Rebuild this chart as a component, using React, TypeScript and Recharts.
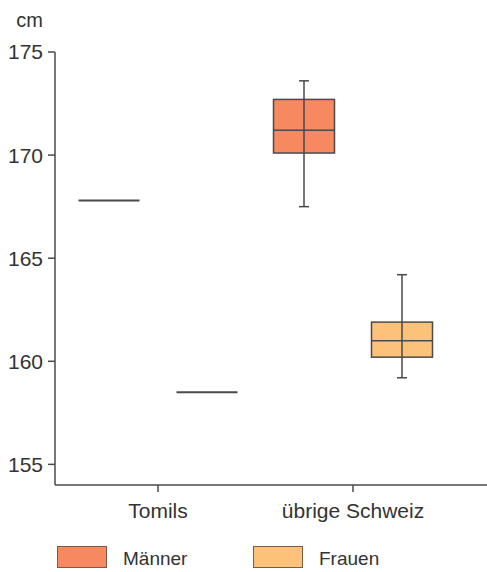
import React from 'react';
import { ComposedChart, Bar, XAxis, YAxis, Legend } from 'recharts';

// Körpergrösse in cm: Tomils nur als Einzelwert, übrige Schweiz als Boxplot
const categories = ['Tomils', 'übrige Schweiz'];
const seriesNames = ['Männer', 'Frauen'];

const maennerMin: (number | null)[] = [null, 167.5];
const maennerQ1: (number | null)[] = [null, 170.1];
const maennerMedian: number[] = [167.8, 171.2];
const maennerQ3: (number | null)[] = [null, 172.7];
const maennerMax: (number | null)[] = [null, 173.6];

const frauenMin: (number | null)[] = [null, 159.2];
const frauenQ1: (number | null)[] = [null, 160.2];
const frauenMedian: number[] = [158.5, 161.0];
const frauenQ3: (number | null)[] = [null, 161.9];
const frauenMax: (number | null)[] = [null, 164.2];

const yTicks = [155, 160, 165, 170, 175];

const FONT = '"Liberation Sans", Arial, Helvetica, sans-serif';
const INK = '#333333';
const LINE = '#4a4a4a';
const MEN_FILL = '#F6895F';
const WOMEN_FILL = '#FDC27A';

type Stats = {
  min: number | null;
  q1: number | null;
  median: number;
  q3: number | null;
  max: number | null;
};

const data = categories.map((name, i) => ({
  name,
  m: {
    min: maennerMin[i],
    q1: maennerQ1[i],
    median: maennerMedian[i],
    q3: maennerQ3[i],
    max: maennerMax[i],
  } as Stats,
  f: {
    min: frauenMin[i],
    q1: frauenQ1[i],
    median: frauenMedian[i],
    q3: frauenQ3[i],
    max: frauenMax[i],
  } as Stats,
}));

const range = (s: Stats): [number, number] => [s.min ?? s.median, s.max ?? s.median];

// Draws a whisker-box (or a single value line) inside the ranged bar's rectangle
const makeBoxShape = (key: 'm' | 'f') => (props: any) => {
  const { x, y, width, height, payload, fill } = props;
  const s: Stats = payload[key];
  const [lo, hi] = range(s);
  const toY = (v: number) => (hi === lo ? y : y + ((hi - v) / (hi - lo)) * height);
  const cx = x + width / 2;
  const sw = 1.5;
  if (s.q1 == null || s.q3 == null) {
    const my = toY(s.median);
    return (
      <g>
        <line x1={x} x2={x + width} y1={my} y2={my} stroke={LINE} strokeWidth={2} />
      </g>
    );
  }
  const yMax = toY(hi);
  const yMin = toY(lo);
  const yQ3 = toY(s.q3);
  const yQ1 = toY(s.q1);
  const yMed = toY(s.median);
  const cap = 5;
  return (
    <g>
      <rect x={x} y={yQ3} width={width} height={yQ1 - yQ3} fill={fill} stroke={LINE} strokeWidth={sw} />
      <line x1={cx} x2={cx} y1={yMax} y2={yMin} stroke={LINE} strokeWidth={sw} />
      <line x1={cx - cap} x2={cx + cap} y1={yMax} y2={yMax} stroke={LINE} strokeWidth={sw} />
      <line x1={cx - cap} x2={cx + cap} y1={yMin} y2={yMin} stroke={LINE} strokeWidth={sw} />
      <line x1={x} x2={x + width} y1={yMed} y2={yMed} stroke={LINE} strokeWidth={sw} />
    </g>
  );
};

const renderLegend = (props: any) => {
  const payload = [...(props.payload || [])].sort(
    (a: any, b: any) => seriesNames.indexOf(a.value) - seriesNames.indexOf(b.value),
  );
  const lefts = [57, 253];
  return (
    <div style={{ position: 'relative', height: 26, fontFamily: FONT, fontSize: 19, color: INK }}>
      {payload.map((p: any, i: number) => (
        <div
          key={p.value}
          style={{ position: 'absolute', left: lefts[i], top: 2, display: 'flex', alignItems: 'center', height: 22 }}
        >
          <span
            style={{
              display: 'inline-block',
              width: 50,
              height: 22,
              background: p.color,
              border: '1px solid #7a5a48',
              boxSizing: 'border-box',
            }}
          />
          <span style={{ marginLeft: 16, lineHeight: '22px', marginTop: 3 }}>{p.value}</span>
        </div>
      ))}
    </div>
  );
};

const UnitLabel = (props: any) => {
  const vb = props.viewBox || { x: 0, y: 0, width: 0 };
  return (
    <text
      x={vb.x + vb.width - 12}
      y={vb.y - 25}
      textAnchor="end"
      fontFamily={FONT}
      fontSize={20}
      fill={INK}
    >
      cm
    </text>
  );
};

export default function App() {
  return (
    <div style={{ width: 487, height: 572 }}>
      <style>{'body{margin:0;background:#fff;}'}</style>
      <ComposedChart
        width={487}
        height={572}
        data={data}
        margin={{ top: 52, right: 0, bottom: 2, left: 0 }}
        barSize={61}
        barGap={37}
      >
        <XAxis
          dataKey="name"
          type="category"
          height={59}
          padding={{ left: 5.5, right: 36.5 }}
          axisLine={{ stroke: LINE, strokeWidth: 1.5 }}
          tickLine={{ stroke: LINE, strokeWidth: 1.5 }}
          tickSize={7}
          tickMargin={11}
          tick={{ fill: INK, fontSize: 21, fontFamily: FONT }}
        />
        <YAxis
          type="number"
          domain={[154, 175]}
          ticks={yTicks}
          width={55}
          axisLine={{ stroke: LINE, strokeWidth: 1.5 }}
          tickLine={{ stroke: LINE, strokeWidth: 1.5 }}
          tickSize={7}
          tickMargin={5}
          tick={{ fill: INK, fontSize: 21, fontFamily: FONT }}
          label={<UnitLabel />}
        />
        <Legend verticalAlign="bottom" align="left" content={renderLegend} />
        <Bar
          name="Männer"
          dataKey={(row: any) => range(row.m)}
          fill={MEN_FILL}
          shape={makeBoxShape('m')}
          isAnimationActive={false}
        />
        <Bar
          name="Frauen"
          dataKey={(row: any) => range(row.f)}
          fill={WOMEN_FILL}
          shape={makeBoxShape('f')}
          isAnimationActive={false}
        />
      </ComposedChart>
    </div>
  );
}
